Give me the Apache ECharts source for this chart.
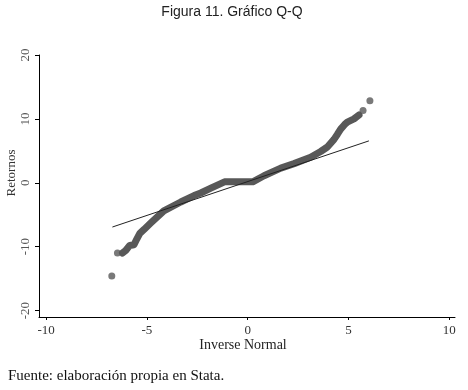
<!DOCTYPE html>
<html><head><meta charset="utf-8">
<script src="https://cdn.jsdelivr.net/npm/echarts@6/dist/echarts.min.js"></script>
<style>html,body{margin:0;padding:0;background:#fff}#c{width:468px;height:390px}</style>
</head><body><div id="c"></div>
<script>
// Tick labels
const xTicks = [-10, -5, 0, 5, 10];
const yTicks = [-20, -10, 0, 10, 20];
// Q-Q body (inverse normal, returns)
const qqBody = [
  [-6.21,-11.0],[-6.05,-10.6],[-5.85,-9.8],[-5.64,-9.7],[-5.50,-8.8],[-5.35,-7.9],
  [-5.14,-7.3],[-4.81,-6.3],[-4.16,-4.4],[-3.32,-3.0],[-2.66,-2.0],[-2.33,-1.6],
  [-1.80,-0.8],[-1.15,0.15],[0.25,0.15],[0.81,1.1],[1.64,2.3],[2.30,3.0],[3.12,4.0],
  [3.62,4.9],[3.95,5.6],[4.28,6.8],[4.45,7.6],[4.61,8.4],[4.80,9.1],[4.94,9.5],
  [5.27,10.0],[5.52,10.6]
];
// Sparse tail points
const qqTails = [[-6.74,-14.6],[-6.46,-11.0],[5.72,11.3],[6.06,12.86]];
// Reference line endpoints
const refLine = [[-6.71,-6.92],[6.01,6.56]];

const chart = echarts.init(document.getElementById('c'), null, {renderer:'canvas'});
const serif = 'Liberation Serif';
const dot = '#585858';
chart.setOption({
  animation:false,
  backgroundColor:'#fff',
  grid:{left:39, right:13, top:55, bottom:73, containLabel:false},
  xAxis:{type:'value', min:-10.35, max:10.28,
    axisLine:{onZero:false, lineStyle:{color:'#000', width:1}},
    axisTick:{show:true, length:3, customValues:xTicks, lineStyle:{color:'#000'}},
    axisLabel:{customValues:xTicks, margin:7, fontFamily:serif, fontSize:13, color:'#333'},
    splitLine:{show:false}},
  yAxis:{type:'value', min:-21, max:20,
    axisLine:{show:true, onZero:false, lineStyle:{color:'#000', width:1}},
    axisTick:{show:true, length:4, customValues:yTicks, lineStyle:{color:'#000'}},
    axisLabel:{customValues:yTicks, rotate:90, margin:7, fontFamily:serif, fontSize:13, color:'#555'},
    splitLine:{show:false}},
  graphic:[
    {type:'text', x:232, y:12, style:{text:'Figura 11. Gráfico Q-Q', font:'14px "Liberation Sans"', fill:'#222', align:'center', verticalAlign:'middle'}},
    {type:'text', x:243, y:345, style:{text:'Inverse Normal', font:'14px "Liberation Serif"', fill:'#222', align:'center', verticalAlign:'middle'}},
    {type:'text', x:12, y:173, rotation:Math.PI/2, style:{text:'Retornos', font:'13px "Liberation Serif"', fill:'#333', align:'center', verticalAlign:'middle'}},
    {type:'text', x:8, y:376, style:{text:'Fuente: elaboración propia en Stata.', font:'15px "Liberation Serif"', fill:'#111', verticalAlign:'middle'}}
  ],
  series:[
    {type:'line', data:qqBody, showSymbol:false, smooth:false,
     lineStyle:{color:dot, width:7, cap:'round', join:'round'}, z:2},
    {type:'scatter', data:qqTails, symbolSize:7, itemStyle:{color:dot}, z:2},
    {type:'line', data:refLine, showSymbol:false, lineStyle:{color:'#222', width:1}, z:3}
  ]
});
</script></body></html>
